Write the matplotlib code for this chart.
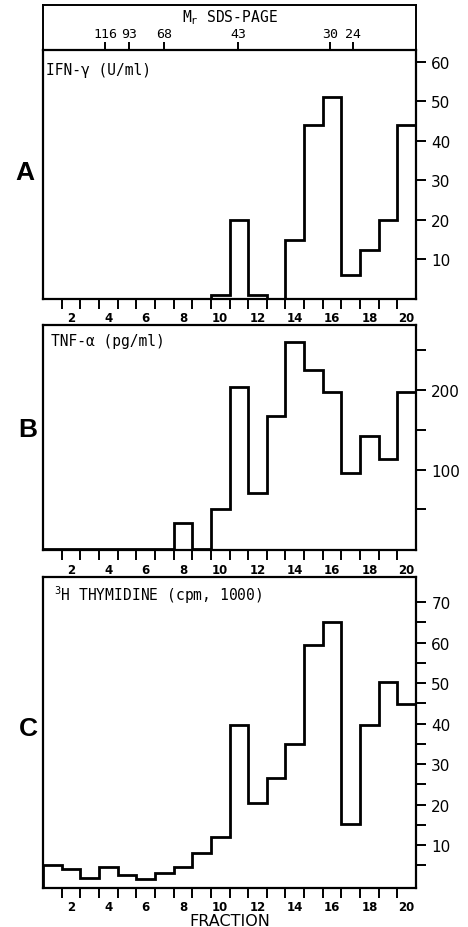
import matplotlib
matplotlib.use("Agg")
import matplotlib.pyplot as plt
import numpy as np

fractions = np.arange(1, 21)
ifn_gamma = [0, 0, 0, 0, 0, 0, 0, 0, 0, 1, 20, 1, 0, 15, 44, 51, 6, 12.5, 20, 44]
tnf_alpha = [0, 0, 0, 0, 0, 0, 0, 33, 0, 50, 204, 71, 168, 260, 226, 198, 96, 142, 113, 198]
thymidine = [5.1, 4.1, 1.9, 4.5, 2.6, 1.6, 3.2, 4.5, 8, 12, 39.6, 20.3, 26.5,
             34.9, 59.5, 65.2, 15.1, 39.7, 50.3, 44.8]

mw_labels = ["116", "93", "68", "43", "30", "24"]
mw_pos = [3.82, 5.11, 6.99, 10.96, 15.89, 17.12]

W, H = 468, 928
fig = plt.figure(figsize=(W / 100, H / 100), dpi=100)

left = 43 / W
width = 373 / W


def ax_rect(top_px, bottom_px):
    return [left, 1 - bottom_px / H, width, (bottom_px - top_px) / H]


edges = np.arange(0.5, 21.0, 1.0)
mono = "DejaVu Sans Mono"


def setup_panel(ax, ylim, major, minor_y):
    ax.set_xlim(0.5, 20.5)
    ax.set_ylim(*ylim)
    for s in ax.spines.values():
        s.set_linewidth(1.6)
    ax.yaxis.tick_right()
    ax.set_yticks(major)
    ax.set_yticklabels([str(v) for v in major])
    ax.set_yticks(minor_y, minor=True)
    ax.tick_params(axis="y", which="both", direction="out", length=7,
                   width=1.4, labelsize=11, pad=4)
    ax.set_xticks(edges[1:-1])
    ax.set_xticklabels([])
    ax.set_xticks(np.arange(2, 21, 2), minor=True)
    ax.set_xticklabels([str(v) for v in range(2, 21, 2)], minor=True,
                       fontweight="bold", fontsize=8.5)
    ax.tick_params(axis="x", which="major", direction="out", length=7, width=1.4)
    ax.tick_params(axis="x", which="minor", length=0, pad=9)


# top box: SDS-PAGE markers
ax0 = fig.add_axes(ax_rect(6, 51))
ax0.set_xlim(0.5, 20.5)
ax0.set_ylim(0, 1)
ax0.set_yticks([])
ax0.set_xticks(mw_pos)
ax0.tick_params(axis="x", direction="in", length=6, width=1.4, labelbottom=False)
for s in ax0.spines.values():
    s.set_linewidth(1.4)
for p, lab in zip(mw_pos, mw_labels):
    ax0.text(p, 0.36, lab, ha="center", va="center", fontsize=9.5, family=mono)
ax0.text(0.5, 0.74, r"M$_\mathregular{r}$ SDS-PAGE", transform=ax0.transAxes,
         ha="center", va="center", fontsize=10.5, family=mono)

# panel A
axA = fig.add_axes(ax_rect(51, 300))
axA.stairs(ifn_gamma, edges, baseline=0, color="black", lw=2)
setup_panel(axA, (0, 63), [10, 20, 30, 40, 50, 60], [])
axA.text(0.008, 0.92, "IFN-\u03b3 (U/ml)", transform=axA.transAxes,
         ha="left", va="center", fontsize=10.5, family=mono)

# panel B
axB = fig.add_axes(ax_rect(326, 551))
axB.stairs(tnf_alpha, edges, baseline=0, color="black", lw=2)
setup_panel(axB, (-1, 282), [100, 200], [50, 150, 250])
axB.text(0.022, 0.929, "TNF-\u03b1 (pg/ml)", transform=axB.transAxes,
         ha="left", va="center", fontsize=10.5, family=mono)

# panel C
axC = fig.add_axes(ax_rect(578, 889))
axC.stairs(thymidine, edges, baseline=-0.6, color="black", lw=2)
setup_panel(axC, (-0.6, 76.2), [10, 20, 30, 40, 50, 60, 70],
            [5, 15, 25, 35, 45, 55, 65])
axC.text(0.03, 0.945, r"$^\mathregular{3}$H THYMIDINE (cpm, 1000)",
         transform=axC.transAxes, ha="left", va="center", fontsize=10.5, family=mono)
axC.set_xlabel("FRACTION", fontsize=11.5, labelpad=0)

for letter, (x, y) in zip("ABC", [(25, 173), (28, 430), (28, 729)]):
    fig.text(x / W, 1 - y / H, letter, ha="center", va="center", fontsize=19,
             fontweight="bold", family="Liberation Sans")

fig.savefig("out.png", dpi=100)
